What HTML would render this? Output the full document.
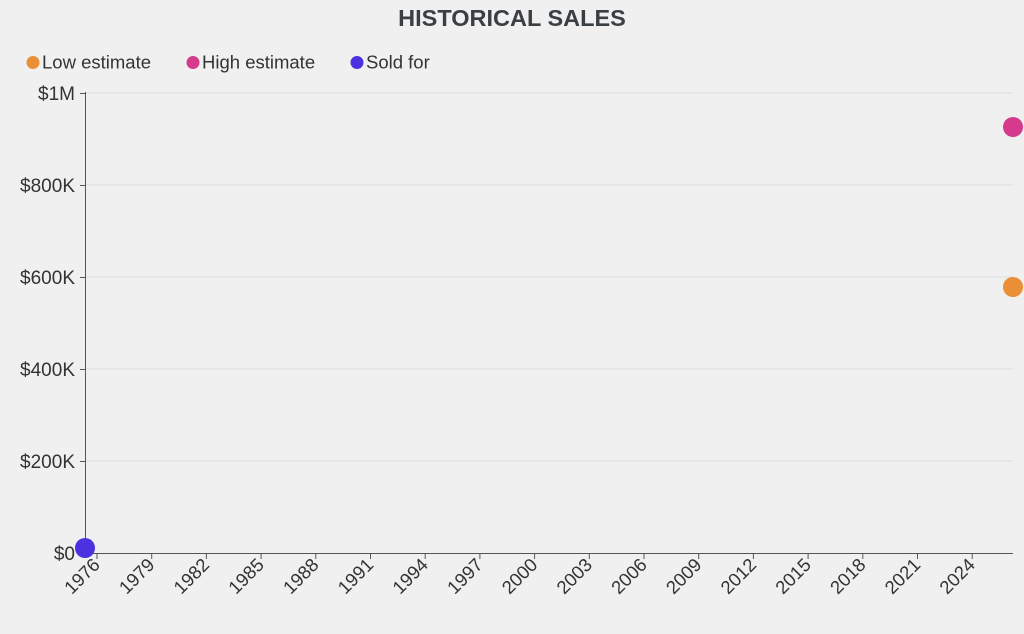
<!DOCTYPE html>
<html><head><style>
body{margin:0;background:#f0f0f0;}
svg{display:block;font-family:"Liberation Sans",sans-serif;}
</style></head><body>
<svg width="1024" height="634" viewBox="0 0 1024 634">
<rect width="1024" height="634" fill="#f0f0f0"/>
<text x="512" y="26" text-anchor="middle" font-size="23.5" font-weight="bold" fill="#3a3f44">HISTORICAL SALES</text>
<circle cx="33" cy="62.5" r="6.5" fill="#ea8f35"/>
<text x="42" y="68.5" font-size="18.5" fill="#333">Low estimate</text>
<circle cx="193" cy="62.5" r="6.5" fill="#d63a8c"/>
<text x="202" y="68.5" font-size="18.5" fill="#333">High estimate</text>
<circle cx="357" cy="62.5" r="6.5" fill="#4a32e0"/>
<text x="366" y="68.5" font-size="18.5" fill="#333">Sold for</text>
<g stroke="#dcdcdc" stroke-width="1">
<line x1="85" x2="1013" y1="93" y2="93"/><line x1="85" x2="1013" y1="185" y2="185"/>
<line x1="85" x2="1013" y1="277" y2="277"/><line x1="85" x2="1013" y1="369" y2="369"/>
<line x1="85" x2="1013" y1="461" y2="461"/>
</g>
<g stroke="#555" stroke-width="1">
<line x1="85.5" y1="92" x2="85.5" y2="553"/>
<line x1="85" y1="553.5" x2="1013" y2="553.5"/>
<line x1="80" x2="85" y1="93.5" y2="93.5"/><line x1="80" x2="85" y1="185.5" y2="185.5"/>
<line x1="80" x2="85" y1="277.5" y2="277.5"/><line x1="80" x2="85" y1="369.5" y2="369.5"/>
<line x1="80" x2="85" y1="461.5" y2="461.5"/>
<line x1="97" x2="97" y1="553" y2="559"/><line x1="151.7" x2="151.7" y1="553" y2="559"/>
<line x1="206.4" x2="206.4" y1="553" y2="559"/><line x1="261.1" x2="261.1" y1="553" y2="559"/>
<line x1="315.8" x2="315.8" y1="553" y2="559"/><line x1="370.5" x2="370.5" y1="553" y2="559"/>
<line x1="425.2" x2="425.2" y1="553" y2="559"/><line x1="479.9" x2="479.9" y1="553" y2="559"/>
<line x1="534.6" x2="534.6" y1="553" y2="559"/><line x1="589.3" x2="589.3" y1="553" y2="559"/>
<line x1="644" x2="644" y1="553" y2="559"/><line x1="698.7" x2="698.7" y1="553" y2="559"/>
<line x1="753.4" x2="753.4" y1="553" y2="559"/><line x1="808.1" x2="808.1" y1="553" y2="559"/>
<line x1="862.8" x2="862.8" y1="553" y2="559"/><line x1="917.5" x2="917.5" y1="553" y2="559"/>
<line x1="972.2" x2="972.2" y1="553" y2="559"/>
</g>
<g font-size="19" fill="#333" text-anchor="end">
<text x="75" y="100">$1M</text><text x="75" y="192">$800K</text><text x="75" y="284">$600K</text>
<text x="75" y="376">$400K</text><text x="75" y="468">$200K</text><text x="75" y="560">$0</text>
</g>
<g font-size="18.5" fill="#333" text-anchor="end">
<text transform="translate(101,566) rotate(-45)">1976</text>
<text transform="translate(155.7,566) rotate(-45)">1979</text>
<text transform="translate(210.4,566) rotate(-45)">1982</text>
<text transform="translate(265.1,566) rotate(-45)">1985</text>
<text transform="translate(319.8,566) rotate(-45)">1988</text>
<text transform="translate(374.5,566) rotate(-45)">1991</text>
<text transform="translate(429.2,566) rotate(-45)">1994</text>
<text transform="translate(483.9,566) rotate(-45)">1997</text>
<text transform="translate(538.6,566) rotate(-45)">2000</text>
<text transform="translate(593.3,566) rotate(-45)">2003</text>
<text transform="translate(648,566) rotate(-45)">2006</text>
<text transform="translate(702.7,566) rotate(-45)">2009</text>
<text transform="translate(757.4,566) rotate(-45)">2012</text>
<text transform="translate(812.1,566) rotate(-45)">2015</text>
<text transform="translate(866.8,566) rotate(-45)">2018</text>
<text transform="translate(921.5,566) rotate(-45)">2021</text>
<text transform="translate(976.2,566) rotate(-45)">2024</text>
</g>
<circle cx="1013" cy="127" r="10" fill="#d63a8c"/>
<circle cx="1013" cy="287" r="10" fill="#ea8f35"/>
<circle cx="85" cy="548" r="10" fill="#4a32e0"/>
</svg>
</body></html>
